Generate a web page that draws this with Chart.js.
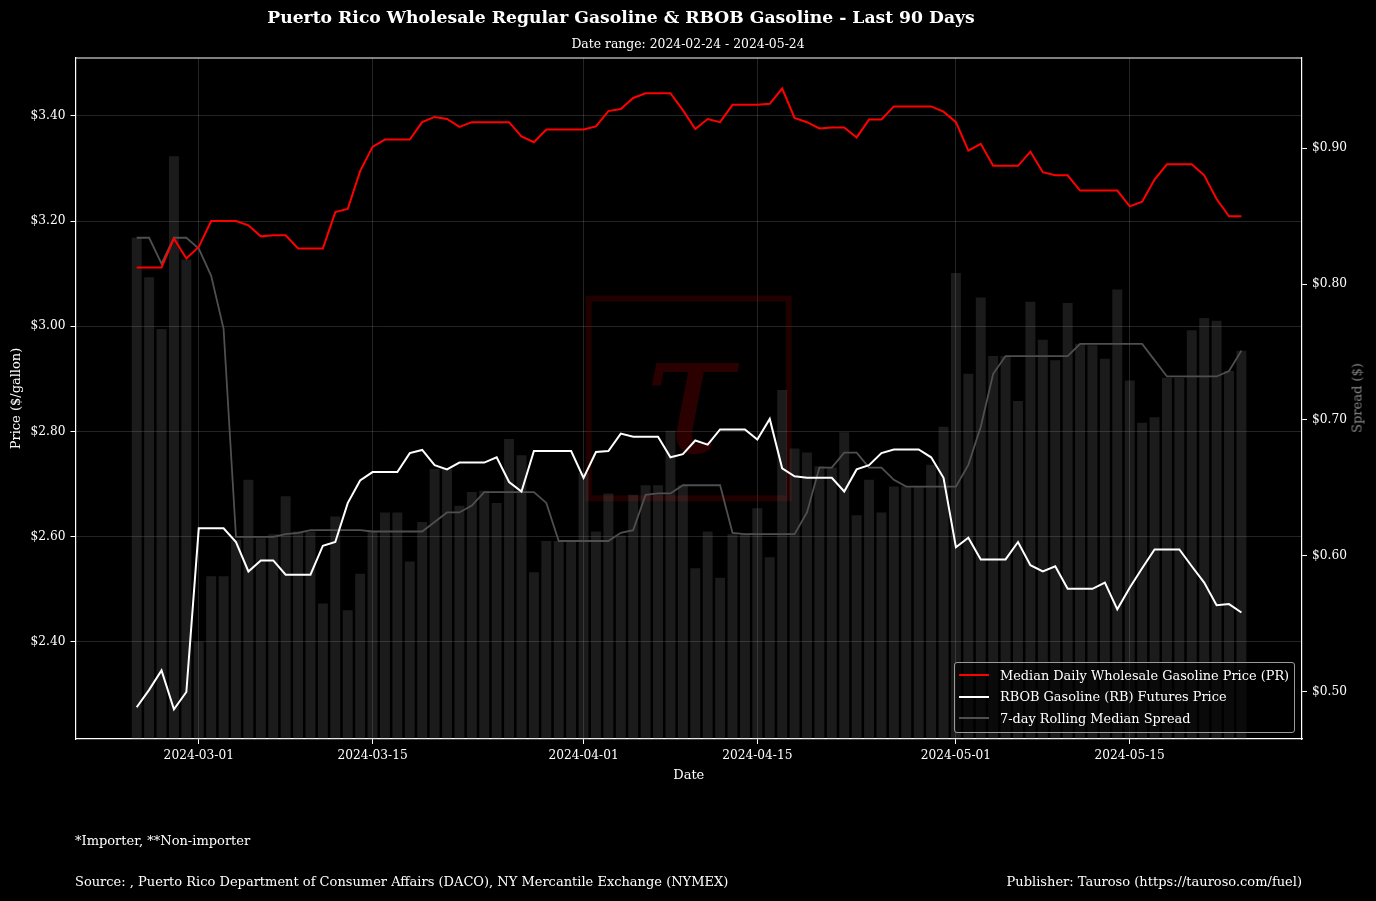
<!DOCTYPE html>
<html>
<head>
<meta charset="utf-8">
<script src="https://cdn.jsdelivr.net/npm/chart.js@4.4.1/dist/chart.umd.min.js"></script>
<style>
  html, body { margin: 0; padding: 0; background: #000; }
  #wrap { position: relative; width: 1376px; height: 901px; background: #000; font-family: 'DejaVu Serif', serif; color: #fff; }
  #c { position: absolute; left: 0; top: 0; }
  .txt { position: absolute; white-space: nowrap; line-height: 1; }
  #title { left: 121px; width: 1000px; top: 9px; text-align: center; font-weight: bold; font-size: 17.2px; }
  #subtitle { left: 188px; width: 1000px; top: 38px; text-align: center; font-size: 12.4px; }
  #note { left: 75px; top: 834px; font-size: 13px; }
  #source { left: 75px; top: 875px; font-size: 13px; }
  #publisher { right: 74px; top: 875px; font-size: 13px; }
  #spreadTitle { left: 1357px; top: 398px; font-size: 13px; color: #888; transform: translate(-50%, -50%) rotate(-90deg); }
  #legend { position: absolute; left: 954px; top: 662px; width: 339px; height: 69px; border: 1px solid #9a9a9a; border-radius: 3px; background: rgba(0,0,0,0.6); font-size: 12.9px; }
  #legend .row { position: absolute; left: 4px; height: 16px; display: flex; align-items: center; }
  #legend .swatch { width: 30px; margin-right: 11px; }
</style>
</head>
<body>
<div id="wrap">
  <canvas id="c" width="1376" height="901"></canvas>
  <div class="txt" id="title">Puerto Rico Wholesale Regular Gasoline &amp; RBOB Gasoline - Last 90 Days</div>
  <div class="txt" id="subtitle">Date range: 2024-02-24 - 2024-05-24</div>
  <div class="txt" id="spreadTitle">Spread ($)</div>
  <div id="legend"></div>
  <div class="txt" id="note">*Importer, **Non-importer</div>
  <div class="txt" id="source">Source: , Puerto Rico Department of Consumer Affairs (DACO), NY Mercantile Exchange (NYMEX)</div>
  <div class="txt" id="publisher">Publisher: Tauroso (https://tauroso.com/fuel)</div>
</div>
<script>
// ──────────────────────────────────────────────
// Data — one value per day, day 0 = 2024-02-25
// ──────────────────────────────────────────────
const prMedian = [
  3.112, 3.112, 3.112, 3.167, 3.129, 3.151, 3.200, 3.200, 3.200, 3.192, 3.171, 3.173, 3.173, 3.148, 3.148, 3.148, 3.217, 3.223, 3.295,
  3.341, 3.355, 3.355, 3.355, 3.388, 3.398, 3.394, 3.379, 3.388, 3.388, 3.388, 3.388, 3.361, 3.350, 3.374, 3.374, 3.374, 3.374,
  3.380, 3.409, 3.413, 3.434, 3.443, 3.443, 3.443, 3.411, 3.375, 3.394, 3.388, 3.421, 3.421, 3.421, 3.423, 3.452, 3.396, 3.388, 3.376,
  3.378, 3.378, 3.359, 3.393, 3.393, 3.418, 3.418, 3.418, 3.418, 3.408, 3.388, 3.334, 3.347, 3.305, 3.305, 3.305, 3.332, 3.293,
  3.287, 3.287, 3.258, 3.258, 3.258, 3.258, 3.228, 3.237, 3.279, 3.308, 3.308, 3.308, 3.287, 3.242, 3.209, 3.209,
];
const rbobFutures = [
  2.276, 2.309, 2.346, 2.272, 2.305, 2.616, 2.616, 2.616, 2.590, 2.534, 2.555, 2.555, 2.528, 2.528, 2.528, 2.583, 2.590, 2.664, 2.707,
  2.723, 2.723, 2.723, 2.759, 2.765, 2.736, 2.728, 2.741, 2.741, 2.741, 2.751, 2.704, 2.686, 2.763, 2.763, 2.763, 2.763, 2.712,
  2.761, 2.763, 2.796, 2.790, 2.790, 2.790, 2.751, 2.757, 2.783, 2.775, 2.804, 2.804, 2.804, 2.785, 2.824, 2.730, 2.715, 2.712, 2.712,
  2.712, 2.686, 2.728, 2.736, 2.759, 2.766, 2.766, 2.766, 2.751, 2.712, 2.580, 2.598, 2.557, 2.557, 2.557, 2.590, 2.546, 2.534,
  2.544, 2.501, 2.501, 2.501, 2.513, 2.462, 2.503, 2.540, 2.576, 2.576, 2.576, 2.544, 2.513, 2.470, 2.472, 2.456,
];
const dailySpread = [
  0.834, 0.805, 0.767, 0.894, 0.818, 0.537, 0.585, 0.585, 0.612, 0.656, 0.613, 0.616, 0.644, 0.618, 0.618, 0.565, 0.629, 0.560, 0.587,
  0.618, 0.632, 0.632, 0.596, 0.625, 0.664, 0.664, 0.637, 0.647, 0.648, 0.639, 0.686, 0.674, 0.588, 0.611, 0.611, 0.611, 0.661,
  0.618, 0.646, 0.615, 0.645, 0.652, 0.652, 0.692, 0.652, 0.591, 0.618, 0.584, 0.616, 0.616, 0.635, 0.599, 0.722, 0.679, 0.676, 0.666,
  0.665, 0.691, 0.630, 0.656, 0.632, 0.651, 0.651, 0.651, 0.667, 0.695, 0.808, 0.734, 0.790, 0.747, 0.747, 0.714, 0.787, 0.759,
  0.744, 0.786, 0.756, 0.755, 0.745, 0.796, 0.729, 0.698, 0.702, 0.731, 0.731, 0.766, 0.775, 0.773, 0.736, 0.751,
];
const rollingSpread = [
  0.834, 0.834, 0.815, 0.834, 0.834, 0.826, 0.806, 0.767, 0.614, 0.614, 0.614, 0.614, 0.616, 0.617, 0.619, 0.619, 0.619, 0.619, 0.619,
  0.618, 0.618, 0.618, 0.618, 0.618, 0.625, 0.632, 0.632, 0.637, 0.647, 0.647, 0.647, 0.647, 0.647, 0.639, 0.611, 0.611, 0.611,
  0.611, 0.611, 0.617, 0.619, 0.645, 0.646, 0.646, 0.652, 0.652, 0.652, 0.652, 0.617, 0.616, 0.616, 0.616, 0.616, 0.616, 0.632, 0.665,
  0.665, 0.676, 0.676, 0.665, 0.665, 0.656, 0.651, 0.651, 0.651, 0.651, 0.651, 0.667, 0.695, 0.734, 0.747, 0.747, 0.747, 0.747,
  0.747, 0.747, 0.756, 0.756, 0.756, 0.756, 0.756, 0.756, 0.744, 0.732, 0.732, 0.732, 0.732, 0.732, 0.736, 0.751,
];

// x ticks (day index) and their labels
const xTickDays = [5, 19, 36, 50, 66, 80];
const xTickLabels = ['2024-03-01', '2024-03-15', '2024-04-01', '2024-04-15', '2024-05-01', '2024-05-15'];
const priceTicks = [2.4, 2.6, 2.8, 3.0, 3.2, 3.4];
const spreadTicks = [0.5, 0.6, 0.7, 0.8, 0.9];

const pts = arr => arr.map((v, i) => ({ x: i, y: v }));

const red = '#ff0000';
const white = '#ffffff';
const grey = '#4f4f4f';
const gridCol = 'rgba(255,255,255,0.14)';
const tickFont = { family: 'DejaVu Serif', size: 12.2 };
const titleFont = { family: 'DejaVu Serif', size: 13 };

// faint τ watermark in the middle of the plot + top spine
const decor = {
  id: 'decor',
  beforeDatasetsDraw(chart) {
    const { ctx, chartArea: a } = chart;
    const cx = (a.left + a.right) / 2, cy = (a.top + a.bottom) / 2;
    const w = a.width * 0.168, h = a.height * 0.302;
    ctx.save();
    ctx.strokeStyle = 'rgba(140,0,0,0.24)';
    ctx.lineWidth = 6;
    ctx.strokeRect(cx - w / 2 + 3, cy - h / 2 + 3, w - 6, h - 6);
    ctx.fillStyle = 'rgba(140,0,0,0.3)';
    ctx.font = 'italic 175px "DejaVu Serif"';
    ctx.textAlign = 'center';
    ctx.textBaseline = 'alphabetic';
    ctx.fillText('τ', cx, cy + 54);
    ctx.restore();
  },
  afterDraw(chart) {
    const { ctx, chartArea: a } = chart;
    ctx.save();
    ctx.strokeStyle = '#fff';
    ctx.lineWidth = 1.2;
    ctx.beginPath();
    ctx.moveTo(a.left, a.top);
    ctx.lineTo(a.right, a.top);
    ctx.stroke();
    ctx.restore();
  },
};

const chart = new Chart(document.getElementById('c'), {
  data: {
    datasets: [
      {
        type: 'line', label: 'Median Daily Wholesale Gasoline Price (PR)',
        data: pts(prMedian), yAxisID: 'y', borderColor: red, borderWidth: 2,
        pointRadius: 0, tension: 0, order: 1,
      },
      {
        type: 'line', label: 'RBOB Gasoline (RB) Futures Price',
        data: pts(rbobFutures), yAxisID: 'y', borderColor: white, borderWidth: 2,
        pointRadius: 0, tension: 0, order: 2,
      },
      {
        type: 'line', label: '7-day Rolling Median Spread',
        data: pts(rollingSpread), yAxisID: 'y1', borderColor: grey, borderWidth: 1.8,
        pointRadius: 0, tension: 0, order: 3,
      },
      {
        type: 'bar', label: 'Daily Spread',
        data: pts(dailySpread), yAxisID: 'y1', backgroundColor: 'rgba(128,128,128,0.21)',
        barPercentage: 0.8, categoryPercentage: 1, order: 4,
      },
    ],
  },
  options: {
    responsive: false, devicePixelRatio: 1, animation: false,
    layout: { padding: { top: 58, left: 0, right: 0, bottom: 112 } },
    plugins: { legend: { display: false }, tooltip: { enabled: false } },
    scales: {
      x: {
        type: 'linear', min: -4.93, max: 93.88, offset: false,
        afterBuildTicks: s => { s.ticks = xTickDays.map(v => ({ value: v })); },
        afterFit: s => { s.height = 50; },
        grid: { color: gridCol, tickColor: '#fff', tickLength: 5, offset: false },
        border: { color: '#fff', width: 1.2 },
        ticks: { color: '#fff', font: tickFont, padding: 5, maxRotation: 0, autoSkip: false,
          callback: v => xTickLabels[xTickDays.indexOf(v)] },
        title: { display: true, text: 'Date', color: '#fff', font: titleFont, padding: { top: 0, bottom: 6 } },
      },
      y: {
        position: 'left', min: 2.2156, max: 3.510,
        afterBuildTicks: s => { s.ticks = priceTicks.map(v => ({ value: v })); },
        afterFit: s => { s.width = 75.5; },
        grid: { color: gridCol, tickColor: '#fff', tickLength: 5 },
        border: { color: '#fff', width: 1.2 },
        ticks: { color: '#fff', font: tickFont, padding: 5, callback: v => '$' + v.toFixed(2) },
        title: { display: true, text: 'Price ($/gallon)', color: '#fff', font: titleFont, padding: { top: 9, bottom: 0 } },
      },
      y1: {
        position: 'right', min: 0.4654, max: 0.9662,
        afterBuildTicks: s => { s.ticks = spreadTicks.map(v => ({ value: v })); },
        afterFit: s => { s.width = 74; },
        grid: { drawOnChartArea: false, tickColor: '#fff', tickLength: 5 },
        border: { color: '#fff', width: 1.2 },
        ticks: { color: '#fff', font: tickFont, padding: 5, callback: v => '$' + v.toFixed(2) },
      },
    },
  },
  plugins: [decor],
});

// legend box (lower right), built from the line datasets
const legend = document.getElementById('legend');
chart.data.datasets.filter(d => d.type === 'line').forEach((d, i) => {
  const row = document.createElement('div');
  row.className = 'row';
  row.style.top = (4 + i * 21.5) + 'px';
  row.innerHTML = `<span class="swatch" style="height:${d.borderWidth}px;background:${d.borderColor}"></span><span>${d.label}</span>`;
  legend.appendChild(row);
});
</script>
</body>
</html>
